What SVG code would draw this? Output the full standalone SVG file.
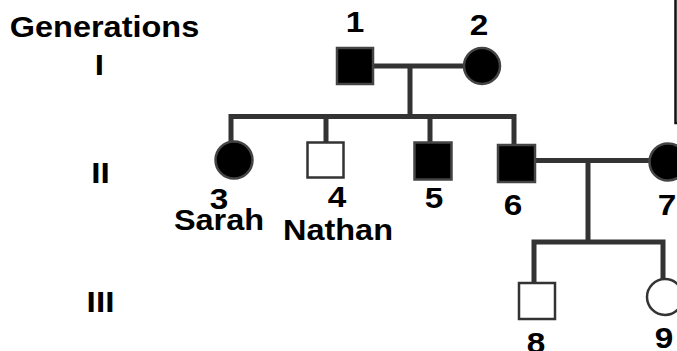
<svg xmlns="http://www.w3.org/2000/svg" width="677" height="351" viewBox="0 0 677 351">
<style>
.ln{stroke:#333;stroke-width:5;fill:none;stroke-linecap:square}
.aff{fill:#000;stroke:#444;stroke-width:2.5}
.un{fill:#fff;stroke:#333;stroke-width:2.5}
text{font-family:"Liberation Sans",Arial,sans-serif;font-weight:bold;font-size:29px;fill:#000;text-anchor:middle}
</style>
<rect x="675.5" y="-5" width="20" height="128" fill="none" stroke="#111" stroke-width="2.5"/>
<g id="labels">
<text transform="translate(104.5,37) scale(1.12,1)">Generations</text>
<text transform="translate(99.5,75) scale(1.15,1)">I</text>
<text transform="translate(100.5,183) scale(1.15,1)">II</text>
<text transform="translate(100.5,312) scale(1.15,1)">III</text>
</g>
<g id="connectors">
<path class="ln" d="M373,66H464M410,66V116.5M231,116.5H514M231,116.5V142M326,116.5V142M430,116.5V142M514,116.5V145M535,160.5H649M588,160.5V242M534,242H663M534,242V283M663,242V279"/>
</g>
<g id="n1"><rect class="aff" x="337" y="48" width="36" height="36"/><text transform="translate(355,32) scale(1.15,1)">1</text></g>
<g id="n2"><circle class="aff" cx="482" cy="66" r="18"/><text transform="translate(479,35) scale(1.15,1)">2</text></g>
<g id="n3"><circle class="aff" cx="234" cy="160" r="18.5"/><text transform="translate(219,209) scale(1.15,1)">3</text><text transform="translate(219,230) scale(1.12,1)">Sarah</text></g>
<g id="n4"><rect class="un" x="307.5" y="142.5" width="36" height="35"/><text transform="translate(337,207) scale(1.15,1)">4</text><text transform="translate(338,240) scale(1.12,1)">Nathan</text></g>
<g id="n5"><rect class="aff" x="414.5" y="142.5" width="37" height="37"/><text transform="translate(434,208) scale(1.15,1)">5</text></g>
<g id="n6"><rect class="aff" x="498" y="145" width="37" height="37"/><text transform="translate(513,215) scale(1.15,1)">6</text></g>
<g id="n7"><circle class="aff" cx="668" cy="162" r="18.5"/><text transform="translate(667,215) scale(1.15,1)">7</text></g>
<g id="n8"><rect class="un" x="519" y="283" width="36" height="36"/><text transform="translate(536,353) scale(1.15,1)">8</text></g>
<g id="n9"><circle class="un" cx="665" cy="297" r="18"/><text transform="translate(664,348) scale(1.15,1)">9</text></g>
</svg>
